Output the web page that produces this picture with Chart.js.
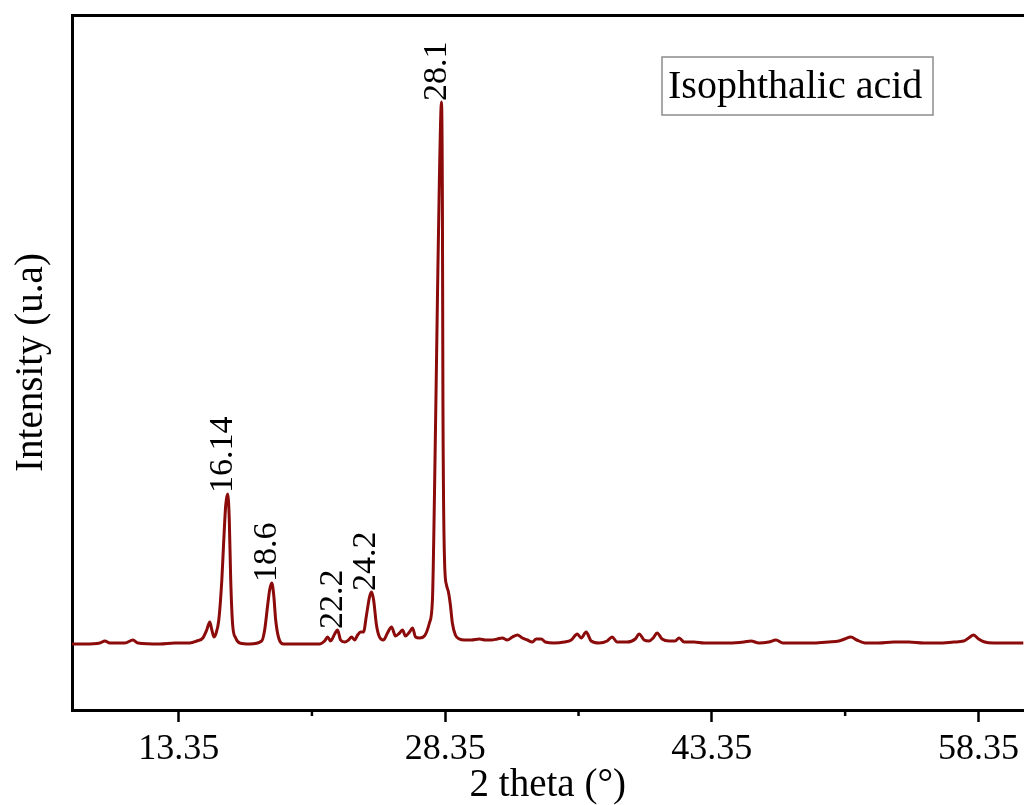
<!DOCTYPE html>
<html>
<head>
<meta charset="utf-8">
<title>Isophthalic acid XRD</title>
<script src="https://cdn.jsdelivr.net/npm/chart.js@4.4.1/dist/chart.umd.min.js"></script>
<style>
  html, body { margin: 0; padding: 0; background: #ffffff; overflow: hidden; }
  #wrap { width: 1025px; height: 805px; }
</style>
</head>
<body>
<div id="wrap"><canvas id="xrdChart" width="1025" height="805"></canvas></div>
<script>
// 2 theta (deg) and intensity (a.u.)
const twoTheta = [
  7.35, 8.08, 8.92, 9.20, 9.48, 10.33, 10.78, 11.06, 12.29, 13.14, 13.98,
  14.37, 14.71, 14.93, 15.10, 15.22, 15.33, 15.44, 15.61, 15.78, 15.89, 16.00,
  16.11, 16.20, 16.28, 16.39, 16.56, 16.79, 17.35, 18.02, 18.19, 18.36, 18.47,
  18.59, 18.70, 18.81, 18.98, 19.26, 20.16, 21.28, 21.56, 21.73, 21.90, 22.13,
  22.29, 22.46, 22.69, 22.91, 23.08, 23.25, 23.42, 23.59, 23.75, 23.92, 24.09,
  24.20, 24.32, 24.48, 24.65, 24.88, 25.10, 25.33, 25.55, 25.78, 25.95, 26.11,
  26.34, 26.51, 26.68, 26.90, 27.18, 27.46, 27.63, 27.74, 27.91, 28.02, 28.14,
  28.19, 28.22, 28.31, 28.42, 28.53, 28.64, 28.75, 28.92, 29.15, 29.43, 29.82,
  30.27, 30.61, 30.94, 31.28, 31.56, 31.84, 32.13, 32.41, 32.69, 32.97, 33.25,
  33.47, 33.75, 33.98, 34.48, 35.05, 35.44, 35.78, 36.00, 36.28, 36.56, 37.01,
  37.46, 37.74, 38.02, 38.59, 39.04, 39.26, 39.54, 39.82, 40.05, 40.27, 40.55,
  40.95, 41.28, 41.51, 41.79, 42.35, 42.91, 43.47, 44.32, 45.16, 45.55, 46.00,
  46.56, 46.96, 47.35, 48.25, 49.09, 49.93, 50.50, 50.83, 51.17, 51.51, 51.96,
  52.74, 53.59, 54.43, 55.27, 56.11, 56.96, 57.52, 57.80, 58.08, 58.36, 58.70,
  59.20, 60.05, 60.89
];
const intensity = [
  66, 66, 67, 69, 67, 67, 70, 67, 66, 67, 67,
  69, 72, 80, 88, 80, 73, 76, 90, 130, 170, 205,
  216, 190, 130, 85, 72, 67, 66, 69, 80, 105, 120,
  127, 115, 90, 72, 66, 66, 66, 69, 73, 69, 76,
  80, 70, 68, 70, 73, 70, 75, 78, 78, 95, 113,
  118, 110, 85, 73, 70, 77, 83, 74, 77, 80, 74,
  78, 82, 73, 72, 74, 87, 110, 210, 410, 530, 608,
  510, 310, 150, 125, 118, 105, 87, 75, 71, 70, 70,
  71, 70, 70, 71, 72, 70, 73, 75, 72, 70, 68,
  71, 71, 68, 67, 68, 70, 76, 72, 78, 69, 67,
  69, 73, 68, 68, 71, 76, 70, 69, 72, 77, 71,
  69, 69, 72, 68, 68, 67, 67, 67, 68, 69, 67,
  68, 70, 67, 67, 67, 68, 69, 71, 73, 70, 67,
  67, 68, 68, 67, 67, 68, 69, 72, 75, 71, 68,
  67, 67, 67
];

const tickValues = [13.35, 20.85, 28.35, 35.85, 43.35, 50.85, 58.35];
const majorTicks = [13.35, 28.35, 43.35, 58.35];
const minorTicks = [20.85, 35.85, 50.85];

const peakLabels = ['16.14', '18.6', '22.2', '24.2', '28.1'];
const peakTheta = [16.11, 18.59, 22.29, 24.20, 28.14];

const serif = "'Liberation Serif', 'Times New Roman', serif";
const lineColor = '#8b0a0a';

const isMajor = (v) => majorTicks.some(m => Math.abs(m - v) < 1e-6);

// short ticks between the labelled ones
const minorTickPlugin = {
  id: 'minorTickPlugin',
  afterDraw(chart) {
    const { ctx, chartArea, scales } = chart;
    ctx.save();
    ctx.strokeStyle = '#000';
    ctx.lineWidth = 2.5;
    minorTicks.forEach(v => {
      const px = scales.x.getPixelForValue(v);
      ctx.beginPath();
      ctx.moveTo(px, chartArea.bottom);
      ctx.lineTo(px, chartArea.bottom + 6);
      ctx.stroke();
    });
    ctx.restore();
  }
};

// rotated peak positions above each reflection
const peakLabelPlugin = {
  id: 'peakLabelPlugin',
  afterDatasetsDraw(chart) {
    const { ctx, scales } = chart;
    ctx.save();
    ctx.fillStyle = '#000';
    ctx.font = '34px ' + serif;
    ctx.textAlign = 'left';
    ctx.textBaseline = 'alphabetic';
    peakLabels.forEach((label, i) => {
      const idx = twoTheta.indexOf(peakTheta[i]);
      const px = scales.x.getPixelForValue(peakTheta[i]);
      const py = scales.y.getPixelForValue(intensity[idx]);
      ctx.save();
      ctx.translate(px + 4, py - 1);
      ctx.rotate(-Math.PI / 2);
      ctx.fillText(label, 0, 0);
      ctx.restore();
    });
    ctx.restore();
  }
};

// boxed sample name in the upper right
const nameBoxPlugin = {
  id: 'nameBoxPlugin',
  afterDraw(chart) {
    const { ctx, chartArea } = chart;
    const left = chartArea.left + 590;
    const top = chartArea.top + 42;
    ctx.save();
    ctx.strokeStyle = '#8c8c8c';
    ctx.lineWidth = 1.5;
    ctx.strokeRect(left, top, 271, 58);
    ctx.fillStyle = '#000';
    ctx.font = '40px ' + serif;
    ctx.textAlign = 'left';
    ctx.textBaseline = 'middle';
    ctx.fillText('Isophthalic acid', left + 6, top + 30);
    ctx.restore();
  }
};

const ctx = document.getElementById('xrdChart').getContext('2d');
new Chart(ctx, {
  type: 'line',
  data: {
    datasets: [{
      label: 'Isophthalic acid',
      data: twoTheta.map((t, i) => ({ x: t, y: intensity[i] })),
      borderColor: lineColor,
      borderWidth: 3,
      pointRadius: 0,
      fill: false,
      cubicInterpolationMode: 'monotone'
    }]
  },
  options: {
    responsive: false,
    animation: false,
    devicePixelRatio: 1,
    layout: { padding: { left: 0, top: 15, right: 0, bottom: 0 } },
    plugins: {
      legend: { display: false },
      tooltip: { enabled: false }
    },
    scales: {
      x: {
        type: 'linear',
        position: 'bottom',
        min: 7.35,
        max: 60.89,
        afterBuildTicks: (scale) => { scale.ticks = tickValues.map(v => ({ value: v })); },
        afterFit: (scale) => { scale.height = 95; },
        ticks: {
          autoSkip: false,
          maxRotation: 0,
          padding: 6,
          color: '#000',
          font: { family: serif, size: 36 },
          callback: (v) => isMajor(v) ? v.toFixed(2) : ''
        },
        grid: {
          drawOnChartArea: false,
          drawTicks: true,
          tickLength: 12,
          tickWidth: 2.5,
          tickColor: (c) => (c.tick && isMajor(c.tick.value)) ? '#000' : 'rgba(0,0,0,0)'
        },
        border: { display: true, color: '#000', width: 3 },
        title: {
          display: true,
          text: '2 theta (°)',
          color: '#000',
          font: { family: serif, size: 39 },
          padding: { top: 0, bottom: -4 }
        }
      },
      xTop: {
        type: 'linear',
        position: 'top',
        min: 7.35,
        max: 60.89,
        afterFit: (scale) => { scale.height = 0; },
        ticks: { display: false },
        grid: { drawOnChartArea: false, drawTicks: false },
        border: { display: true, color: '#000', width: 3 }
      },
      y: {
        type: 'linear',
        position: 'left',
        min: 0,
        max: 695,
        afterFit: (scale) => { scale.width = 72; },
        ticks: { display: false },
        grid: { drawOnChartArea: false, drawTicks: false },
        border: { display: true, color: '#000', width: 3 },
        title: {
          display: true,
          text: 'Intensity (u.a)',
          color: '#000',
          font: { family: serif, size: 39 },
          padding: { top: 8, bottom: 0 }
        }
      }
    }
  },
  plugins: [minorTickPlugin, peakLabelPlugin, nameBoxPlugin]
});
</script>
</body>
</html>
